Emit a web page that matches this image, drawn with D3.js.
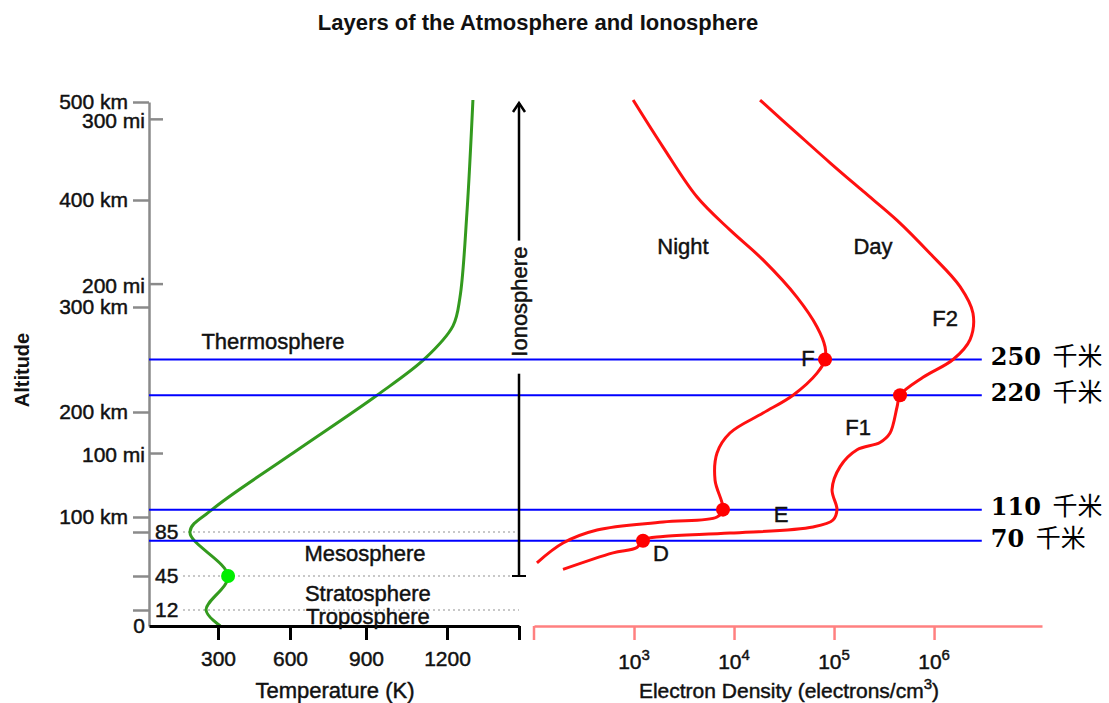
<!DOCTYPE html>
<html><head><meta charset="utf-8">
<script src="https://cdn.jsdelivr.net/npm/d3@7"></script>
<style>body{margin:0;background:#fff} svg{display:block} .t{stroke:#111;stroke-width:0.45px}</style>
</head><body>
<svg id="c" width="1109" height="703"></svg>
<script>
// ---------- data ----------
const title = "Layers of the Atmosphere and Ionosphere";
const kmTicks = [500, 400, 300, 200, 100];
const kmMinorTicks = [85, 45, 12];
const miTicks = [300, 200, 100];
const tempTicks = [300, 600, 900, 1200, 1500];
const densityTicks = [1e3, 1e4, 1e5, 1e6];

const tempAlt = [0, 12, 45, 85, 107, 159, 216, 251, 282, 309, 388, 502];
const tempK   = [310, 248, 342, 178, 274, 600, 941, 1119, 1225, 1254, 1283, 1308];
const stratopause = {alt: 45, temp: 342};

const nightAlt = [502, 454, 403, 372, 344, 309, 281, 262, 250, 237, 216, 199, 180, 161, 135, 107, 100, 95, 87, 75, 57];
const nightDensity = [980, 1950, 4270, 9100, 19500, 42700, 67600, 81300, 81300, 67600, 38900, 19500, 9100, 6760, 6460, 7760, 6760, 1950, 427, 195, 107];

const dayAlt = [502, 468, 438, 409, 381, 350, 319, 294, 269, 250, 233, 216, 205, 180, 171, 164, 148, 126, 107, 97, 90, 84, 81, 78, 71, 66, 51];
const dayDensity = [18200, 42700, 91200, 195000, 427000, 912000, 1820000, 2450000, 2290000, 1550000, 776000, 457000, 427000, 363000, 288000, 170000, 115000, 95500, 107000, 97700, 61700, 9100, 1950, 1230, 1070, 617, 195];

const refAlt = [250, 216, 107, 77];
const refLabels = ["250", "220", "110", "70"];
const refUnit = "千米";
const peakDensity = [81300, 457000, 7760, 1230];

const layerNames = ["Thermosphere", "Mesosphere", "Stratosphere", "Troposphere"];
const layerTemp = [529, 896, 907, 907];
const layerAlt = [267, 66, 28.5, 7.5];

const regionNames = ["Night", "Day", "F2", "F", "F1", "E", "D"];
const regionDensity = [3090, 245000, 1290000, 55000, 174000, 29500, 1860];
const regionAlt = [357, 357, 289, 251, 185, 103, 66];

const ionosphereRange = [45, 500];
const ionosphereLabelAlt = 305;

// ---------- scales ----------
const FONT = "'Liberation Sans', Arial, Helvetica, sans-serif";
const svg = d3.select("#c");
const y = d3.scaleLinear().domain([0, 12, 45, 85, 100, 200, 300, 400, 500])
  .range([626, 610, 576, 532, 517, 412, 307, 200, 102]);
const yMi = y.copy().domain(y.domain().map(d => d / 1.609344));
const tx = d3.scaleLinear().domain([0, 300, 600, 900, 1200, 1500])
  .range([149, 218, 290, 366, 447, 519]);
const dx = d3.scaleLog().domain([1e2, 1.2e7]).range([534, 1042]);
const x0 = tx.range()[0];
const xIono = tx(1500);

// title
svg.append("text").attr("x", 538).attr("y", 30).attr("text-anchor", "middle")
  .attr("font-family", FONT).attr("font-size", 22).attr("font-weight", "bold")
  .attr("fill", "#111").text(title);

// altitude label
svg.append("text").attr("transform", "translate(29,370) rotate(-90)")
  .attr("text-anchor", "middle").attr("font-family", FONT).attr("font-size", 20)
  .attr("font-weight", "bold").attr("fill", "#111").text("Altitude");

// dotted reference lines at minor ticks
svg.append("g").selectAll("line").data(kmMinorTicks).join("line")
  .attr("x1", 183).attr("x2", xIono).attr("y1", d => y(d)).attr("y2", d => y(d))
  .attr("stroke", "#c8c8c8").attr("stroke-width", 2).attr("stroke-dasharray", "2,3");

// left axis (km)
const gL = svg.append("g").attr("transform", `translate(${x0},0)`)
  .call(d3.axisLeft(y).tickValues(kmTicks.concat(kmMinorTicks)).tickSize(16)
    .tickSizeOuter(0).tickPadding(5)
    .tickFormat(d => kmTicks.includes(d) ? d + " km" : ""));
gL.select(".domain").attr("stroke", "#8a8a8a").attr("stroke-width", 2.5);
gL.selectAll(".tick line").attr("stroke", "#8a8a8a").attr("stroke-width", 2.5);
gL.selectAll(".tick text").attr("class", "t").attr("font-family", FONT).attr("font-size", 21).attr("fill", "#111");

// miles ticks
const gM = svg.append("g").attr("transform", `translate(${x0},0)`)
  .call(d3.axisRight(yMi).tickValues(miTicks).tickSize(14).tickSizeOuter(0).tickFormat(""));
gM.select(".domain").remove();
gM.selectAll(".tick line").attr("stroke", "#8a8a8a").attr("stroke-width", 2.5);
svg.append("g").selectAll("text").data(miTicks).join("text")
  .attr("class", "t")
  .attr("x", x0 - 4).attr("y", d => yMi(d) + 2).attr("dy", "0.35em").attr("text-anchor", "end")
  .attr("font-family", FONT).attr("font-size", 21).attr("fill", "#111").text(d => d + " mi");

// minor labels
svg.append("g").selectAll("text").data(kmMinorTicks).join("text")
  .attr("class", "t")
  .attr("x", x0 + 6).attr("y", d => y(d)).attr("dy", "0.35em").attr("text-anchor", "start")
  .attr("font-family", FONT).attr("font-size", 21).attr("fill", "#111").text(d => d);
svg.append("text").attr("class", "t").attr("x", x0 - 4).attr("y", y(0)).attr("dy", "0.35em").attr("text-anchor", "end")
  .attr("font-family", FONT).attr("font-size", 21).attr("fill", "#111").text("0");

// temperature curve
const tempData = tempAlt.map((a, i) => ({a, t: tempK[i]}));
svg.append("path").datum(tempData)
  .attr("d", d3.line().x(d => tx(d.t)).y(d => y(d.a)).curve(d3.curveCatmullRom.alpha(0.5)))
  .attr("fill", "none").attr("stroke", "#339a1e").attr("stroke-width", 3);

// blue reference lines
const xEnd = dx(3e6);
svg.append("g").selectAll("line").data(refAlt).join("line")
  .attr("x1", x0).attr("x2", xEnd).attr("y1", d => y(d)).attr("y2", d => y(d))
  .attr("stroke", "#0000ff").attr("stroke-width", 2);

// electron density curves
const lineD = d3.line().x(d => dx(d.n)).y(d => y(d.a)).curve(d3.curveCatmullRom.alpha(0.5));
[[nightAlt, nightDensity], [dayAlt, dayDensity]].forEach(([al, de]) => {
  svg.append("path").datum(al.map((a, i) => ({a, n: de[i]})))
    .attr("d", lineD).attr("fill", "none").attr("stroke", "#ff1010").attr("stroke-width", 3);
});

// red dots
svg.append("g").selectAll("circle").data(refAlt).join("circle")
  .attr("cx", (d, i) => dx(peakDensity[i])).attr("cy", d => y(d)).attr("r", 7).attr("fill", "#ff0000");

// green dot
svg.append("circle").attr("cx", tx(stratopause.temp)).attr("cy", y(stratopause.alt))
  .attr("r", 7).attr("fill", "#00ee00");

// ref labels
const rl = svg.append("g").selectAll("text").data(refAlt).join("text")
  .attr("x", xEnd + 9).attr("y", d => y(d)).attr("dy", "0.36em").attr("fill", "#000");
rl.append("tspan").attr("font-family", "'DejaVu Serif', serif").attr("font-weight", "bold")
  .attr("font-size", 24).text((d, i) => refLabels[i]);
rl.append("tspan").attr("font-family", "'Noto Sans CJK SC', sans-serif").attr("font-size", 25)
  .attr("dx", 6).text(" " + refUnit);

// temperature axis
const gT = svg.append("g").attr("transform", `translate(0,${y(0)})`)
  .call(d3.axisBottom(tx).tickValues(tempTicks).tickSize(14).tickSizeOuter(0).tickPadding(11)
    .tickFormat(d => d === 1500 ? "" : d));
gT.select(".domain").attr("stroke", "#000").attr("stroke-width", 3);
gT.selectAll(".tick line").attr("stroke", "#000").attr("stroke-width", 3);
gT.selectAll(".tick text").attr("class", "t").attr("font-family", FONT).attr("font-size", 21).attr("fill", "#111");
svg.append("text").attr("class", "t").attr("x", 335).attr("y", 698).attr("text-anchor", "middle")
  .attr("font-family", FONT).attr("font-size", 22).attr("fill", "#111").text("Temperature (K)");

// density axis
const gD = svg.append("g").attr("transform", `translate(0,${y(0)})`)
  .call(d3.axisBottom(dx).tickValues(densityTicks).tickSize(14).tickSizeOuter(0).tickFormat(""));
gD.select(".domain").attr("stroke", "#ff8080").attr("stroke-width", 2.5);
gD.selectAll(".tick line").attr("stroke", "#ff8080").attr("stroke-width", 2.5);
gD.append("line").attr("x1", dx.range()[0]).attr("x2", dx.range()[0]).attr("y1", 0).attr("y2", 14)
  .attr("stroke", "#ff8080").attr("stroke-width", 2.5);
const dl = svg.append("g").selectAll("text").data(densityTicks).join("text")
  .attr("class", "t")
  .attr("x", d => dx(d)).attr("y", 669).attr("text-anchor", "middle")
  .attr("font-family", FONT).attr("font-size", 21).attr("fill", "#111");
dl.append("tspan").text("10");
dl.append("tspan").attr("dy", -9).attr("font-size", 15).text(d => Math.round(Math.log10(d)));
const et = svg.append("text").attr("class", "t").attr("x", 789).attr("y", 698).attr("text-anchor", "middle")
  .attr("font-family", FONT).attr("font-size", 21).attr("fill", "#111");
et.append("tspan").text("Electron Density (electrons/cm");
et.append("tspan").attr("dy", -9).attr("font-size", 15).text("3");
et.append("tspan").attr("dy", 9).text(")");

// ionosphere arrow
const ionoText = svg.append("text").attr("class", "t")
  .attr("transform", `translate(${xIono},${y(ionosphereLabelAlt)}) rotate(-90)`)
  .attr("text-anchor", "middle").attr("dy", "0.35em").attr("font-family", FONT)
  .attr("font-size", 22).attr("fill", "#111").text("Ionosphere");
const half = ionoText.node().getComputedTextLength() / 2;
const yc = y(ionosphereLabelAlt);
const yTop = y(ionosphereRange[1]), yBot = y(ionosphereRange[0]);
svg.append("line").attr("x1", xIono).attr("x2", xIono).attr("y1", yBot).attr("y2", yc + half + 17)
  .attr("stroke", "#000").attr("stroke-width", 2.5);
svg.append("line").attr("x1", xIono).attr("x2", xIono).attr("y1", yc - half - 6).attr("y2", yTop + 1)
  .attr("stroke", "#000").attr("stroke-width", 2.5);
svg.append("path").attr("d", `M${xIono - 6},${yTop + 10}L${xIono},${yTop + 1}L${xIono + 6},${yTop + 10}`)
  .attr("fill", "none").attr("stroke", "#000").attr("stroke-width", 2.5);
svg.append("line").attr("x1", xIono - 7).attr("x2", xIono + 7).attr("y1", yBot).attr("y2", yBot)
  .attr("stroke", "#000").attr("stroke-width", 2);

// layer labels
svg.append("g").selectAll("text").data(layerNames).join("text")
  .attr("class", "t")
  .attr("x", (d, i) => tx(layerTemp[i])).attr("y", (d, i) => y(layerAlt[i])).attr("dy", "0.35em")
  .attr("text-anchor", "middle").attr("font-family", FONT).attr("font-size", 22).attr("fill", "#111")
  .text(d => d);

// region labels
svg.append("g").selectAll("text").data(regionNames).join("text")
  .attr("class", "t")
  .attr("x", (d, i) => dx(regionDensity[i])).attr("y", (d, i) => y(regionAlt[i])).attr("dy", "0.35em")
  .attr("text-anchor", "middle").attr("font-family", FONT).attr("font-size", 22).attr("fill", "#111")
  .text(d => d);
</script>
</body></html>
